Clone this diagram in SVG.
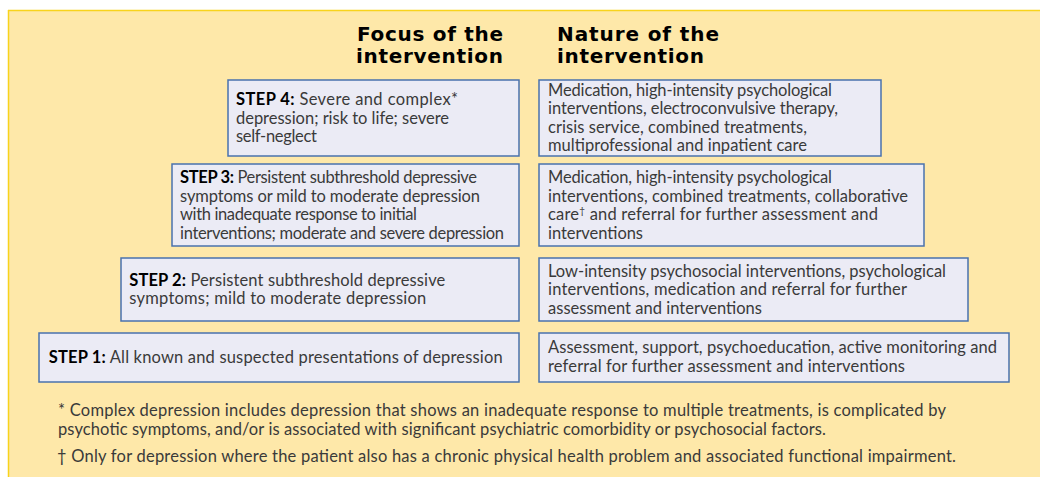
<svg xmlns="http://www.w3.org/2000/svg" width="1040" height="477" viewBox="0 0 1040 477">
<style>
.bg{fill:#fee8a9}
.box{fill:#ebebf5;stroke:#4a72ad;stroke-width:1.5}
.hd{font-family:"DejaVu Sans","Liberation Sans",sans-serif;font-weight:bold;font-size:20px;fill:#000}
.t{font-family:"Lato","Liberation Sans",sans-serif;font-size:16.5px;fill:#3a3a3a}
.b{font-weight:bold;fill:#000}
</style>
<rect x="0" y="0" width="1040" height="477" fill="#fff"/>
<rect class="bg" x="8" y="10" width="1032" height="467"/>
<line x1="8" y1="10.5" x2="1040" y2="10.5" stroke="#f8d31c" stroke-width="1.5"/>
<line x1="8.5" y1="10" x2="8.5" y2="477" stroke="#f8d31c" stroke-width="1.5"/>

<g id="headers">
<text class="hd" x="357" y="41" textLength="146" lengthAdjust="spacing">Focus of the</text>
<text class="hd" x="356" y="63" textLength="147" lengthAdjust="spacing">intervention</text>
<text class="hd" x="557" y="41" textLength="162" lengthAdjust="spacing">Nature of the</text>
<text class="hd" x="557" y="63" textLength="147" lengthAdjust="spacing">intervention</text>
</g>

<g id="step4">
<rect class="box" x="228" y="80" width="291" height="76"/>
<text class="t" x="236" y="105" textLength="222" lengthAdjust="spacing"><tspan class="b">STEP 4:</tspan> Severe and complex*</text>
<text class="t" x="236" y="123.5" textLength="213" lengthAdjust="spacing">depression; risk to life; severe</text>
<text class="t" x="236" y="142" textLength="81" lengthAdjust="spacing">self-neglect</text>
</g>
<g id="nature4">
<rect class="box" x="539" y="80" width="342" height="76"/>
<text class="t" x="548" y="95.5" textLength="284" lengthAdjust="spacing">Medication, high-intensity psychological</text>
<text class="t" x="548" y="114" textLength="290" lengthAdjust="spacing">interventions, electroconvulsive therapy,</text>
<text class="t" x="548" y="132.5" textLength="259" lengthAdjust="spacing">crisis service, combined treatments,</text>
<text class="t" x="548" y="151" textLength="259" lengthAdjust="spacing">multiprofessional and inpatient care</text>
</g>

<g id="step3">
<rect class="box" x="172" y="164" width="347" height="82"/>
<text class="t" x="180" y="183" textLength="297" lengthAdjust="spacing"><tspan class="b">STEP 3:</tspan> Persistent subthreshold depressive</text>
<text class="t" x="180" y="201.5" textLength="300" lengthAdjust="spacing">symptoms or mild to moderate depression</text>
<text class="t" x="180" y="220" textLength="237" lengthAdjust="spacing">with inadequate response to initial</text>
<text class="t" x="180" y="238.5" textLength="324" lengthAdjust="spacing">interventions; moderate and severe depression</text>
</g>
<g id="nature3">
<rect class="box" x="539" y="164" width="385" height="82"/>
<text class="t" x="548" y="183" textLength="284" lengthAdjust="spacing">Medication, high-intensity psychological</text>
<text class="t" x="548" y="201.5" textLength="360" lengthAdjust="spacing">interventions, combined treatments, collaborative</text>
<text class="t" x="548" y="220" textLength="330" lengthAdjust="spacing">care<tspan font-size="10" dy="-6">†</tspan><tspan dy="6"> and referral for further assessment and</tspan></text>
<text class="t" x="548" y="238.5" textLength="95" lengthAdjust="spacing">interventions</text>
</g>

<g id="step2">
<rect class="box" x="121" y="258" width="398" height="63"/>
<text class="t" x="129.3" y="285.7" textLength="316" lengthAdjust="spacing"><tspan class="b">STEP 2:</tspan> Persistent subthreshold depressive</text>
<text class="t" x="129.3" y="304" textLength="297" lengthAdjust="spacing">symptoms; mild to moderate depression</text>
</g>
<g id="nature2">
<rect class="box" x="539" y="258" width="429" height="63"/>
<text class="t" x="548" y="276.7" textLength="398" lengthAdjust="spacing">Low-intensity psychosocial interventions, psychological</text>
<text class="t" x="548" y="295" textLength="359" lengthAdjust="spacing">interventions, medication and referral for further</text>
<text class="t" x="548" y="313.5" textLength="214" lengthAdjust="spacing">assessment and interventions</text>
</g>

<g id="step1">
<rect class="box" x="39" y="333" width="480" height="49"/>
<text class="t" x="48.7" y="363" textLength="454" lengthAdjust="spacing"><tspan class="b">STEP 1:</tspan> All known and suspected presentations of depression</text>
</g>
<g id="nature1">
<rect class="box" x="539" y="333" width="470" height="49"/>
<text class="t" x="548" y="353" textLength="449" lengthAdjust="spacing">Assessment, support, psychoeducation, active monitoring and</text>
<text class="t" x="548" y="371.7" textLength="357" lengthAdjust="spacing">referral for further assessment and interventions</text>
</g>

<g id="footnotes">
<text class="t" x="58" y="416" textLength="888" lengthAdjust="spacing">* Complex depression includes depression that shows an inadequate response to multiple treatments, is complicated by</text>
<text class="t" x="58" y="435" textLength="768" lengthAdjust="spacing">psychotic symptoms, and/or is associated with significant psychiatric comorbidity or psychosocial factors.</text>
<text class="t" x="57" y="461.7" textLength="899" lengthAdjust="spacing">† Only for depression where the patient also has a chronic physical health problem and associated functional impairment.</text>
</g>
<g id="connectors"></g>
</svg>
